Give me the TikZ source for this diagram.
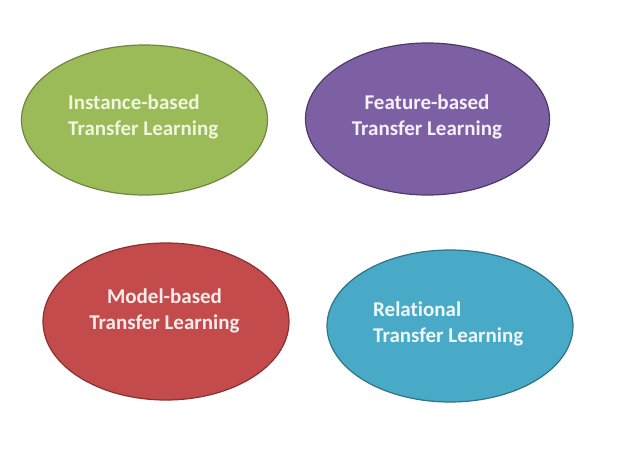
\documentclass[tikz,border=0pt]{standalone}
\usepackage{fontspec}
\setmainfont{Carlito}[Ligatures=NoCommon]
\usetikzlibrary{shapes.geometric}
\definecolor{gfill}{HTML}{9BBB59}\definecolor{gline}{HTML}{6F883F}\definecolor{gtext}{HTML}{F0F5DE}
\definecolor{pfill}{HTML}{7D60A3}\definecolor{pline}{HTML}{4E3A6A}\definecolor{ptext}{HTML}{F6F0FA}
\definecolor{rfill}{HTML}{C34B4B}\definecolor{rline}{HTML}{8A3030}\definecolor{rtext}{HTML}{F8ECEA}
\definecolor{bfill}{HTML}{48AAC7}\definecolor{bline}{HTML}{2F7388}\definecolor{btext}{HTML}{EEF8FB}
\tikzset{
  blob/.style={ellipse, inner sep=0pt, line width=1.2pt, minimum width=246pt, minimum height=152pt},
  label/.style={font=\fontsize{21}{26}\selectfont\bfseries, inner sep=0pt}
}
\begin{document}
\begin{tikzpicture}[x=1pt,y=-1pt]
\useasboundingbox (0,0) rectangle (640,470);
\fill[white] (0,0) rectangle (640,470);
\node[blob, fill=gfill, draw=gline, minimum height=150pt] (green) at (144.5,120) {};
\node[blob, fill=pfill, draw=pline, minimum width=244pt] (purple) at (427.5,119) {};
\node[blob, fill=rfill, draw=rline, minimum height=157pt] (red) at (166,321.5) {};
\node[blob, fill=bfill, draw=bline] (blue) at (450,326) {};
\node[label, text=gtext, align=left, anchor=west] (tg) at (68,116.5) {Instance-based\\Transfer Learning};
\node[label, text=ptext, align=center] (tp) at (427,116.5) {Feature-based\\Transfer Learning};
\node[label, text=rtext, align=center] (tr) at (164.5,310.5) {Model-based\\Transfer Learning};
\node[label, text=btext, align=left, anchor=west] (tb) at (373,323.5) {Relational\\Transfer Learning};
\end{tikzpicture}
\end{document}
